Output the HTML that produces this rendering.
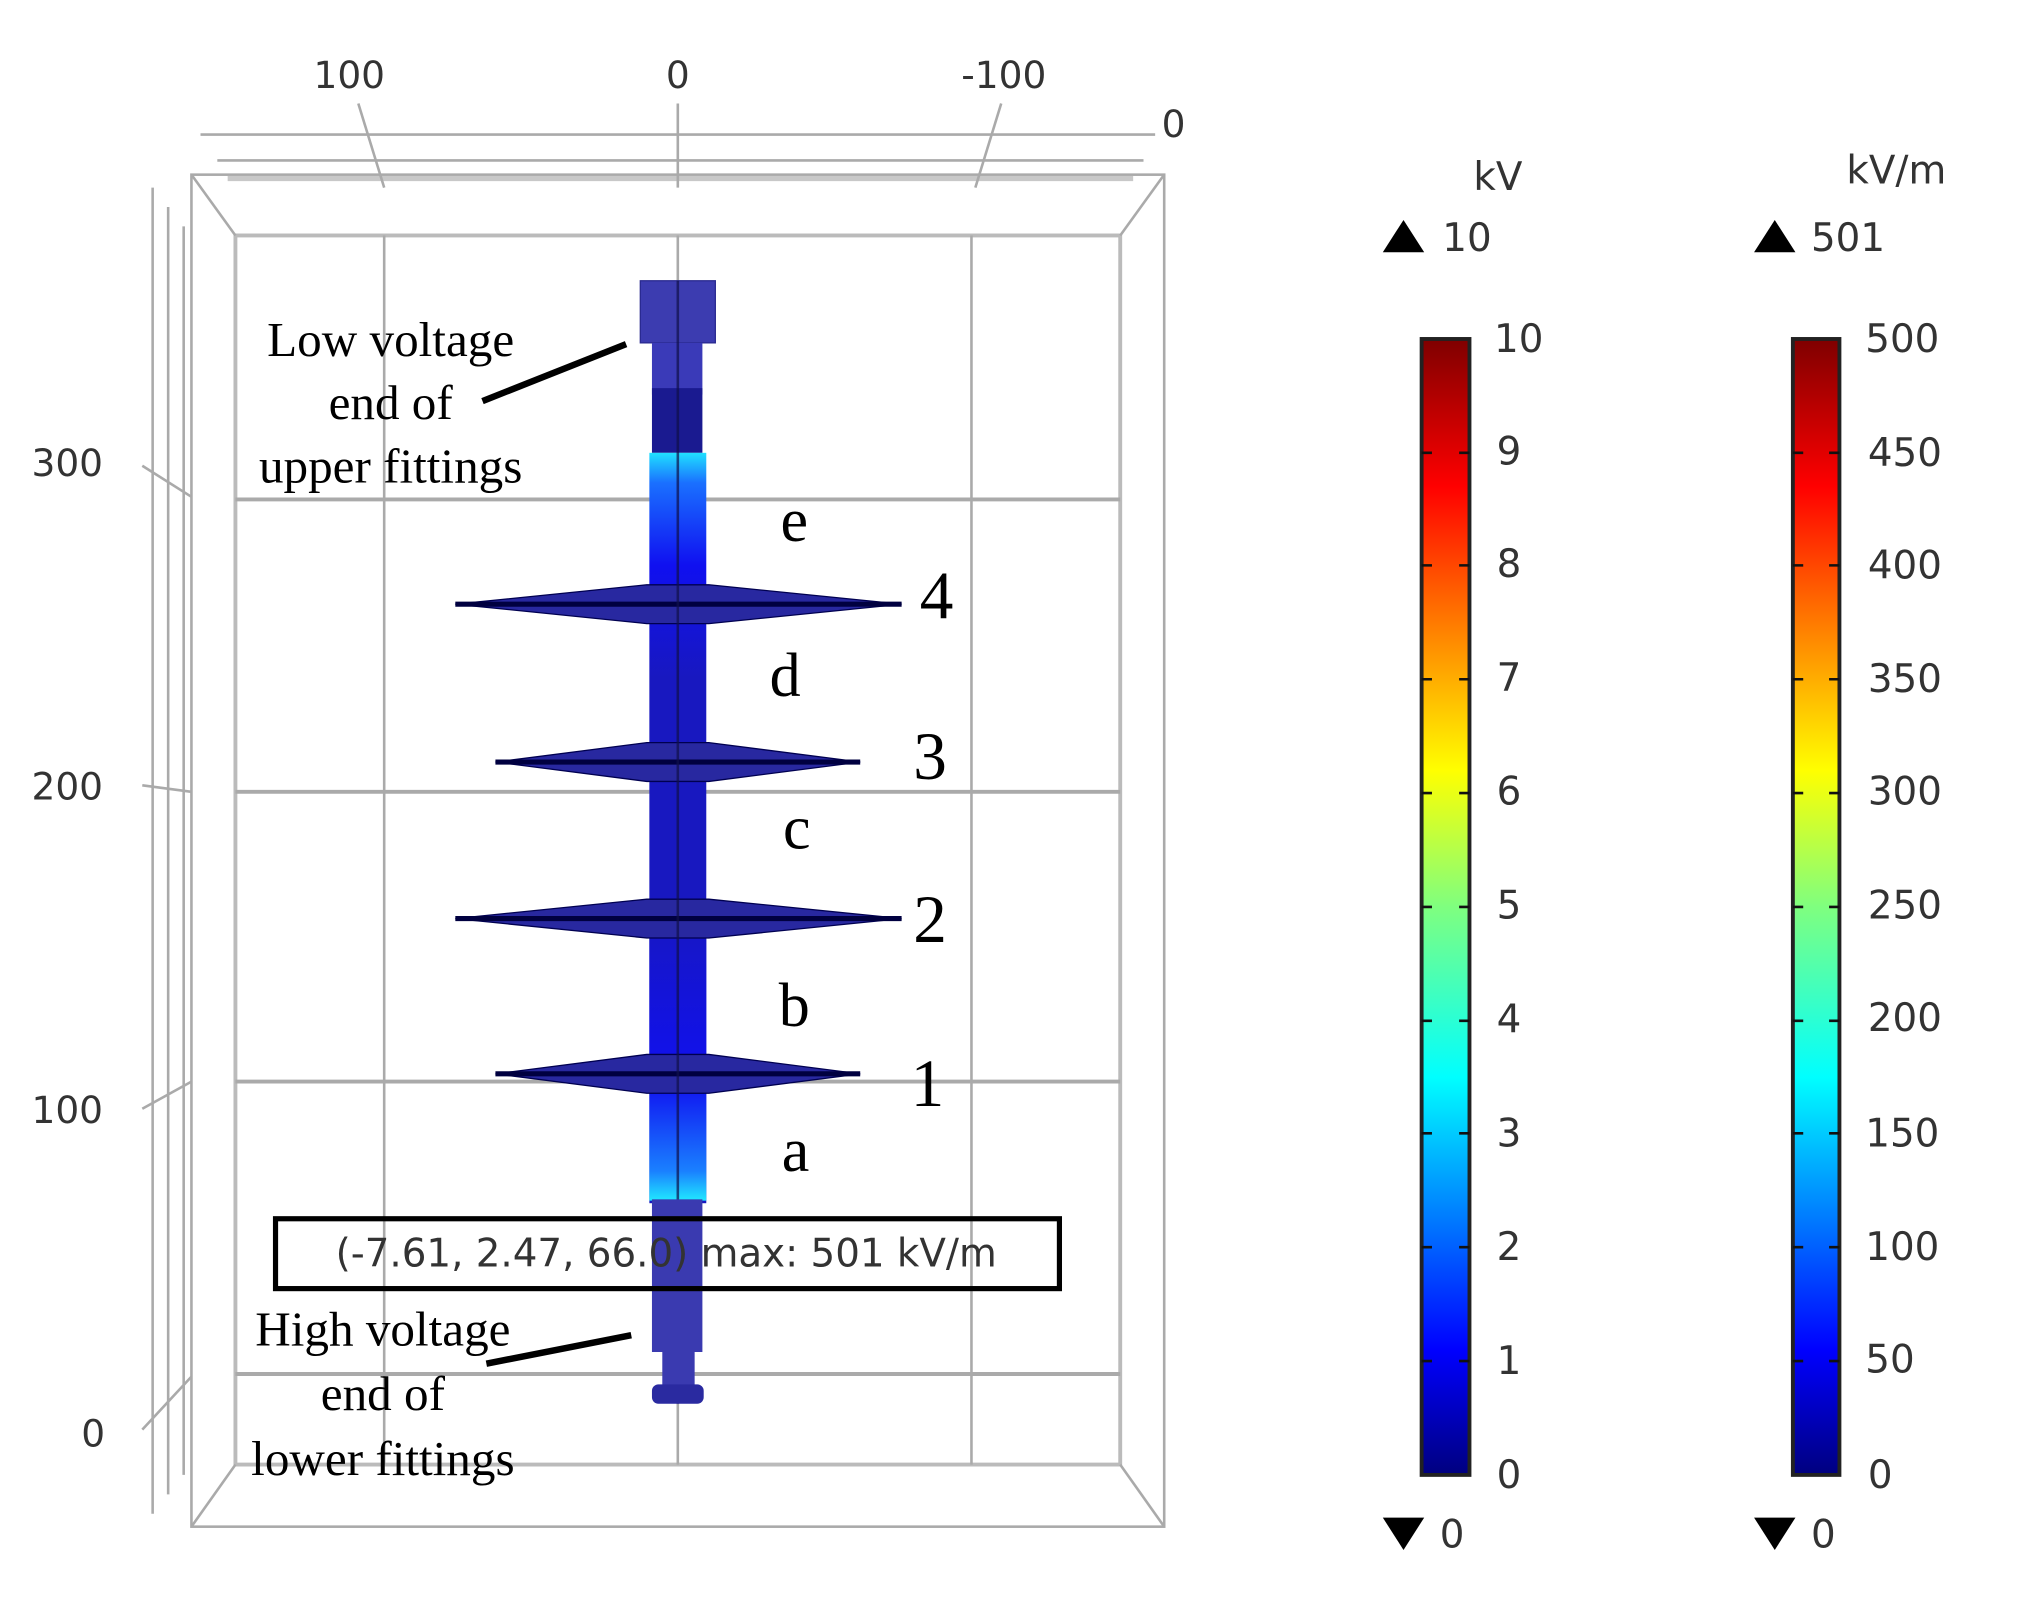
<!DOCTYPE html>
<html><head><meta charset="utf-8"><style>
html,body{margin:0;padding:0;background:#fff;}
svg{display:block}
.t{font-family:"DejaVu Sans","Liberation Sans",sans-serif;font-size:29px;fill:#333}
.s{font-family:"Liberation Serif",serif;fill:#000}
</style></head><body>
<svg width="2027" height="1603" viewBox="0 0 1567 1239" preserveAspectRatio="none">
<defs>
<linearGradient id="jet" x1="0" y1="1" x2="0" y2="0">
<stop offset="0" stop-color="#00007f"/><stop offset="0.11" stop-color="#0000ff"/>
<stop offset="0.35" stop-color="#00ffff"/><stop offset="0.5" stop-color="#7fff7f"/>
<stop offset="0.62" stop-color="#ffff00"/><stop offset="0.87" stop-color="#ff0000"/>
<stop offset="1" stop-color="#7f0000"/></linearGradient>
<linearGradient id="rodU" x1="0" y1="0" x2="0" y2="1">
<stop offset="0" stop-color="#20e0ff"/><stop offset="0.04" stop-color="#1a70ff"/><stop offset="0.15" stop-color="#1010f0"/><stop offset="0.3" stop-color="#1818c0"/><stop offset="1" stop-color="#1818c0"/></linearGradient>
<linearGradient id="rodL" x1="0" y1="0" x2="0" y2="1">
<stop offset="0" stop-color="#1818c0"/><stop offset="0.6" stop-color="#1010f0"/><stop offset="0.9" stop-color="#1a80ff"/><stop offset="1" stop-color="#20e8ff"/></linearGradient>
</defs>
<g stroke="#aaa" fill="none" stroke-width="2">
<line x1="155" y1="104" x2="893" y2="104"/>
<line x1="168" y1="124" x2="884" y2="124"/>
<line x1="176" y1="138" x2="876" y2="138" stroke-width="4" stroke="#c8c8c8"/>
<rect x="148" y="135" width="752" height="1045"/>
<rect x="182" y="182" width="684" height="950" stroke-width="3" stroke="#bbb"/>
<line x1="148" y1="135" x2="182" y2="182"/><line x1="900" y1="135" x2="866" y2="182"/>
<line x1="148" y1="1180" x2="182" y2="1132"/><line x1="900" y1="1180" x2="866" y2="1132"/>
<line x1="297" y1="182" x2="297" y2="1132"/><line x1="524" y1="182" x2="524" y2="1132"/><line x1="751" y1="182" x2="751" y2="1132"/>
<line x1="182" y1="386" x2="866" y2="386" stroke-width="3"/><line x1="182" y1="612" x2="866" y2="612" stroke-width="3"/>
<line x1="182" y1="836" x2="866" y2="836" stroke-width="3"/><line x1="182" y1="1062" x2="866" y2="1062" stroke-width="3"/>
<line x1="277" y1="80" x2="297" y2="145"/><line x1="524" y1="80" x2="524" y2="145"/><line x1="774" y1="80" x2="754" y2="145"/>
<line x1="118" y1="145" x2="118" y2="1170"/><line x1="130" y1="160" x2="130" y2="1155"/><line x1="142" y1="175" x2="142" y2="1140"/>
<line x1="110" y1="360" x2="148" y2="384"/><line x1="110" y1="607" x2="148" y2="612"/><line x1="110" y1="857" x2="148" y2="836"/><line x1="110" y1="1105" x2="148" y2="1064"/>
</g>
<g class="t">
<text x="270" y="68" text-anchor="middle">100</text><text x="524" y="68" text-anchor="middle">0</text><text x="776" y="68" text-anchor="middle">-100</text>
<text x="898" y="106">0</text>
<text x="52" y="368" text-anchor="middle">300</text><text x="52" y="618" text-anchor="middle">200</text><text x="52" y="868" text-anchor="middle">100</text><text x="72" y="1118" text-anchor="middle">0</text>
</g>
<g>
<rect x="495" y="217" width="58" height="48" fill="#3c3cb0" stroke="#2a2a90"/>
<rect x="504" y="265" width="39" height="40" fill="#3a3ab8"/>
<rect x="504" y="300" width="39" height="50" fill="#1a1a90"/>
<rect x="502" y="350" width="44" height="580" fill="url(#rodU)"/>
<rect x="502" y="700" width="44" height="228" fill="url(#rodL)"/>
<g fill="#2828a0" stroke="#000050" stroke-width="1">
<polygon points="352,467 500,452 548,452 697,467 548,482 500,482"/>
<polygon points="383,589 500,574 548,574 665,589 548,604 500,604"/>
<polygon points="352,710 500,695 548,695 697,710 548,725 500,725"/>
<polygon points="383,830 500,815 548,815 665,830 548,845 500,845"/>
</g>
<g stroke="#000040" stroke-width="4">
<line x1="352" y1="467" x2="697" y2="467"/><line x1="383" y1="589" x2="665" y2="589"/>
<line x1="352" y1="710" x2="697" y2="710"/><line x1="383" y1="830" x2="665" y2="830"/>
</g>
<line x1="524" y1="217" x2="524" y2="1085" stroke="#10104a" stroke-width="2" opacity="0.7"/>
<rect x="504" y="927" width="39" height="118" fill="#3a3ab0"/>
<rect x="512" y="1045" width="25" height="28" fill="#3a3ab0"/>
<rect x="504" y="1070" width="40" height="15" rx="5" fill="#2a2aa0"/>
</g>
<rect x="213" y="942" width="606" height="54" fill="none" stroke="#000" stroke-width="4"/>
<text x="515" y="979" class="t" style="font-size:30px" text-anchor="middle">(-7.61, 2.47, 66.0) max: 501 kV/m</text>
<g class="s" style="font-size:38px" text-anchor="middle">
<text x="302" y="275">Low voltage</text><text x="302" y="324">end of</text><text x="302" y="373">upper fittings</text>
<text x="296" y="1040">High voltage</text><text x="296" y="1090">end of</text><text x="296" y="1140">lower fittings</text>
</g>
<line x1="373" y1="310" x2="484" y2="266" stroke="#000" stroke-width="5"/>
<line x1="376" y1="1054" x2="488" y2="1032" stroke="#000" stroke-width="5"/>
<g class="s" style="font-size:48px" text-anchor="middle">
<text x="614" y="418">e</text><text x="607" y="538">d</text><text x="616" y="656">c</text><text x="614" y="793">b</text><text x="615" y="905">a</text>
<text x="724" y="478" style="font-size:52px">4</text><text x="719" y="602" style="font-size:52px">3</text><text x="719" y="728" style="font-size:52px">2</text><text x="717" y="855" style="font-size:52px">1</text>
</g>
<g>
<rect x="1099" y="262" width="37" height="878" fill="url(#jet)" stroke="#222" stroke-width="3"/>
<rect x="1386" y="262" width="36" height="878" fill="url(#jet)" stroke="#222" stroke-width="3"/>
<g stroke="#111" stroke-width="2">
<path d="M1099 350h8M1128 350h8M1099 437h8M1128 437h8M1099 525h8M1128 525h8M1099 613h8M1128 613h8M1099 701h8M1128 701h8M1099 789h8M1128 789h8M1099 876h8M1128 876h8M1099 964h8M1128 964h8M1099 1052h8M1128 1052h8"/>
<path d="M1386 350h8M1414 350h8M1386 437h8M1414 437h8M1386 525h8M1414 525h8M1386 613h8M1414 613h8M1386 701h8M1414 701h8M1386 789h8M1414 789h8M1386 876h8M1414 876h8M1386 964h8M1414 964h8M1386 1052h8M1414 1052h8"/>
</g>
<g class="t" style="font-size:30px">
<text x="1158" y="147" text-anchor="middle">kV</text><text x="1115" y="194">10</text>
<text x="1466" y="142" text-anchor="middle">kV/m</text><text x="1400" y="194">501</text>
<text x="1155" y="272">10</text><text x="1157" y="359">9</text><text x="1157" y="446">8</text><text x="1157" y="534">7</text><text x="1157" y="622">6</text><text x="1157" y="710">5</text><text x="1157" y="798">4</text><text x="1157" y="886">3</text><text x="1157" y="974">2</text><text x="1157" y="1062">1</text><text x="1157" y="1150">0</text>
<text x="1442" y="272">500</text><text x="1444" y="360">450</text><text x="1444" y="447">400</text><text x="1444" y="535">350</text><text x="1444" y="622">300</text><text x="1444" y="710">250</text><text x="1444" y="797">200</text><text x="1442" y="886">150</text><text x="1442" y="974">100</text><text x="1442" y="1061">50</text><text x="1444" y="1150">0</text>
<text x="1113" y="1196">0</text><text x="1400" y="1196">0</text>
</g>
<g fill="#000">
<polygon points="1069,195 1101,195 1085,170"/><polygon points="1356,195 1388,195 1372,170"/>
<polygon points="1069,1173 1101,1173 1085,1198"/><polygon points="1356,1173 1388,1173 1372,1198"/>
</g>
</g>
</svg>
</body></html>
